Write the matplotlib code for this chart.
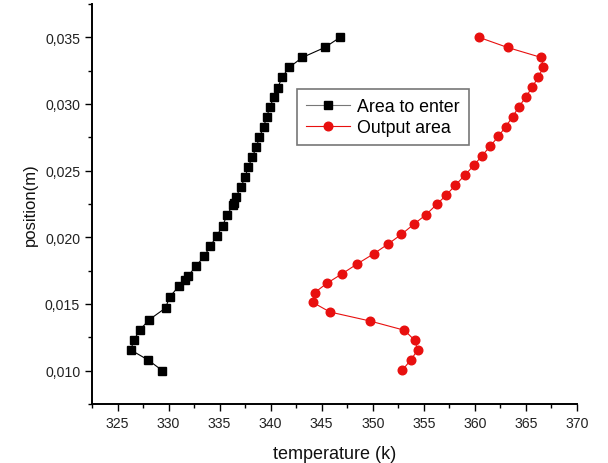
import matplotlib
matplotlib.use("Agg")
import matplotlib.pyplot as plt
from matplotlib.ticker import MultipleLocator, FuncFormatter

plt.rcParams['font.family'] = ['Liberation Sans', 'DejaVu Sans']

# Area to enter (black squares)
enter_temp = [346.8, 345.3, 343.1, 341.8, 341.1, 340.7, 340.3, 339.9, 339.6, 339.3,
              338.9, 338.6, 338.2, 337.8, 337.5, 337.1, 336.6, 336.4, 336.3, 335.7,
              335.3, 334.7, 334.1, 333.5, 332.7, 331.9, 331.6, 331.0, 330.1, 329.7,
              328.1, 327.2, 326.6, 326.3, 328.0, 329.4]
enter_pos = [0.0350, 0.03424, 0.03349, 0.03274, 0.03199, 0.03121, 0.03049, 0.02974, 0.02900, 0.02827,
             0.02752, 0.02677, 0.02602, 0.02527, 0.02454, 0.02379, 0.02304, 0.02260, 0.02240, 0.02165,
             0.02085, 0.02010, 0.01935, 0.01860, 0.01785, 0.01710, 0.01680, 0.01633, 0.01552, 0.01470,
             0.01382, 0.01307, 0.01230, 0.01155, 0.01080, 0.01000]

# Output area (red circles)
output_temp = [360.4, 363.2, 366.5, 366.7, 366.2, 365.6, 365.0, 364.3, 363.7, 363.0,
               362.3, 361.5, 360.7, 359.9, 359.0, 358.1, 357.2, 356.3, 355.2, 354.0,
               352.8, 351.5, 350.1, 348.5, 347.0, 345.5, 344.3, 344.1, 345.8, 349.7,
               353.1, 354.1, 354.4, 353.7, 352.9]
output_pos = [0.0350, 0.03424, 0.03349, 0.03277, 0.03199, 0.03127, 0.03052, 0.02979, 0.02904, 0.02829,
              0.02757, 0.02684, 0.02612, 0.02540, 0.02465, 0.02392, 0.02317, 0.02250, 0.02169, 0.02097,
              0.02022, 0.01950, 0.01877, 0.01802, 0.01727, 0.01655, 0.01585, 0.01513, 0.01440, 0.01373,
              0.01303, 0.01228, 0.01155, 0.01078, 0.01005]

x_ticks = [325, 330, 335, 340, 345, 350, 355, 360, 365, 370]
y_ticks = [0.010, 0.015, 0.020, 0.025, 0.030, 0.035]

fig = plt.figure(figsize=(6.08, 4.64), dpi=100)
ax = fig.add_axes([92/608, 1-405/464, (577-92)/608, (405-5)/464])

ax.plot(enter_temp, enter_pos, color='black', lw=0.8, marker='s', markersize=5.8,
        markeredgecolor='black', label='Area to enter')
ax.plot(output_temp, output_pos, color='#e8100f', lw=0.8, marker='o', markersize=6.2,
        markeredgecolor='#e8100f', label='Output area')

ax.set_xlim(322.5, 370)
ax.set_ylim(0.0075, 0.0375)
ax.set_xticks(x_ticks)
ax.set_yticks(y_ticks)
ax.xaxis.set_minor_locator(MultipleLocator(2.5))
ax.yaxis.set_minor_locator(MultipleLocator(0.0025))
ax.yaxis.set_major_formatter(FuncFormatter(lambda v, p: f"{v:.3f}".replace('.', ',')))

for s in ['top', 'right']:
    ax.spines[s].set_visible(False)
for s in ['left', 'bottom']:
    ax.spines[s].set_linewidth(1.4)

ax.tick_params(axis='both', which='major', direction='out', length=5, width=1,
               labelsize=10.2, labelcolor='#222222')
ax.tick_params(axis='both', which='minor', direction='out', length=3, width=1)

ax.set_xlabel('temperature (k)', fontsize=13, labelpad=11, color='#111111')
ax.set_ylabel('position(m)', fontsize=12, labelpad=5, color='#111111')

leg = ax.legend(loc='upper left', bbox_to_anchor=(297/608, 1-90/464),
                bbox_transform=fig.transFigure, fontsize=12.8, frameon=True,
                fancybox=False, edgecolor='#555555', handlelength=2.5,
                borderpad=0.5, labelspacing=0.25, handletextpad=0.4, borderaxespad=0)
leg.get_frame().set_linewidth(1.2)
leg.get_lines()[0].set_color('#777777')
leg.get_lines()[0].set_markerfacecolor('black')
leg.get_lines()[0].set_markeredgecolor('black')

fig.savefig('out.png', dpi=100)
